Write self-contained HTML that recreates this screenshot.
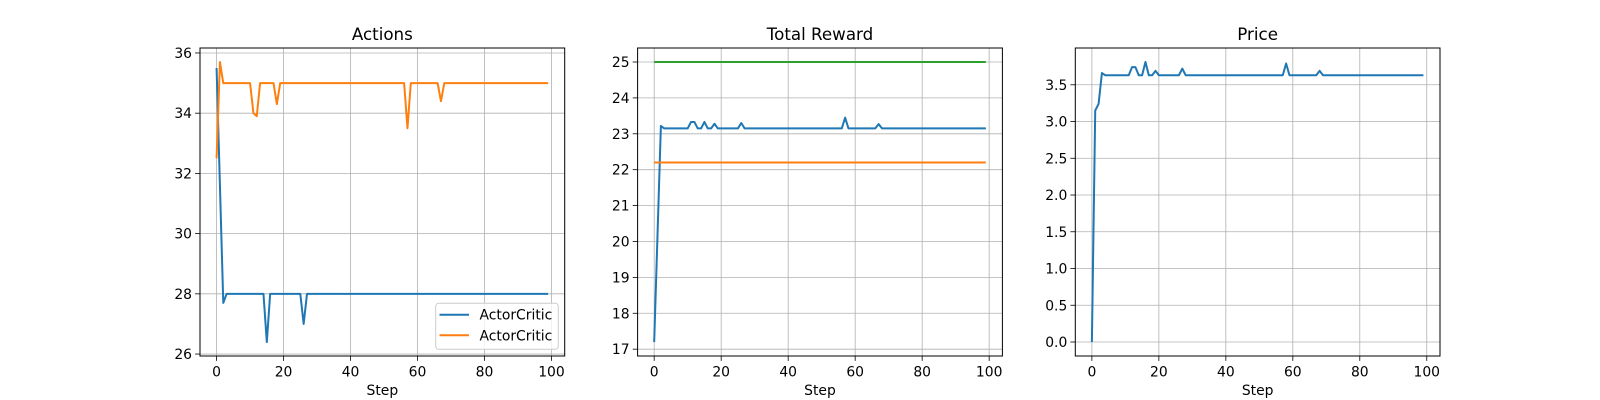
<!DOCTYPE html>
<html><head><meta charset="utf-8"><style>
html,body{margin:0;padding:0;background:#fff;}
svg{display:block;font-family:"DejaVu Sans","Liberation Sans",sans-serif;}
</style></head><body>
<svg id="fig" width="1600" height="400" viewBox="0 0 1600 400"></svg>
<script>
const steps = Array.from({length:100},(_,i)=>i);
// Actions
const actionsBlue = steps.map(i=>28);
actionsBlue[0]=35.5; actionsBlue[1]=31.6; actionsBlue[2]=27.7; actionsBlue[15]=26.4; actionsBlue[26]=27.0;
const actionsOrange = steps.map(i=>35);
actionsOrange[0]=32.5; actionsOrange[1]=35.7; actionsOrange[11]=34.0; actionsOrange[12]=33.9; actionsOrange[18]=34.3; actionsOrange[57]=33.5; actionsOrange[67]=34.4;
// Total reward
const rewardBlue = steps.map(i=>23.15);
rewardBlue[0]=17.2; rewardBlue[1]=20.2; rewardBlue[2]=23.22; rewardBlue[11]=23.33; rewardBlue[12]=23.33; rewardBlue[15]=23.33; rewardBlue[18]=23.28; rewardBlue[26]=23.3; rewardBlue[57]=23.45; rewardBlue[67]=23.27;
const rewardOrange = steps.map(i=>22.2);
const rewardGreen = steps.map(i=>25);
// Price
const priceBlue = steps.map(i=>3.63);
priceBlue[0]=0; priceBlue[1]=3.15; priceBlue[2]=3.24; priceBlue[3]=3.66; priceBlue[12]=3.74; priceBlue[13]=3.74; priceBlue[16]=3.81; priceBlue[19]=3.69; priceBlue[27]=3.72; priceBlue[58]=3.79; priceBlue[68]=3.69;

const xTicks = [0,20,40,60,80,100];
const actionsYTicks = [26,28,30,32,34,36];
const rewardYTicks = [17,18,19,20,21,22,23,24,25];
const priceYTicks = [0,0.5,1,1.5,2,2.5,3,3.5];
const priceYLabels = ["0.0","0.5","1.0","1.5","2.0","2.5","3.0","3.5"];

const NS="http://www.w3.org/2000/svg";
const fig=document.getElementById('fig');
function mk(tag,attrs,parent){const e=document.createElementNS(NS,tag);for(const k in attrs)e.setAttribute(k,attrs[k]);(parent||fig).appendChild(e);return e;}

function panel(left,right,title,seriesList,yTicks,yLabels,name){
  const top=48,bottom=356;
  const g=mk('g',{});
  
  
  let all=[];seriesList.forEach(s=>all=all.concat(s.data));
  const mn=Math.min(...all),mx=Math.max(...all),pad=(mx-mn)*0.05;
  const y0=mn-pad,y1=mx+pad;
  const x0=-4.95,x1=103.95;
  const sx=v=>left+(v-x0)/(x1-x0)*(right-left);
  const sy=v=>bottom-(v-y0)/(y1-y0)*(bottom-top);
  xTicks.forEach(t=>{
    const l=mk('line',{x1:sx(t),x2:sx(t),y1:top,y2:bottom,stroke:'#b0b0b0','stroke-width':0.8},g);
    
    
    mk('line',{x1:sx(t),x2:sx(t),y1:bottom,y2:bottom+4.9,stroke:'#000','stroke-width':0.8},g);
    const tx=mk('text',{x:sx(t),y:bottom+20.5,'font-size':13.9,'text-anchor':'middle',fill:'#000'},g);
    tx.textContent=t;
    
    
  });
  yTicks.forEach((t,i)=>{
    const l=mk('line',{x1:left,x2:right,y1:sy(t),y2:sy(t),stroke:'#b0b0b0','stroke-width':0.8},g);
    
    
    mk('line',{x1:left-4.9,x2:left,y1:sy(t),y2:sy(t),stroke:'#000','stroke-width':0.8},g);
    const tx=mk('text',{x:left-8,y:sy(t)+5,'font-size':13.9,'text-anchor':'end',fill:'#000'},g);
    tx.textContent=yLabels?yLabels[i]:t;
    
    
  });
  seriesList.forEach(s=>{
    const p=mk('polyline',{points:s.data.map((v,i)=>sx(steps[i])+','+sy(v)).join(' '),fill:'none',stroke:s.color,'stroke-width':2,'stroke-linejoin':'round'},g);
    
    
  });
  const r=mk('rect',{x:left,y:top,width:right-left,height:bottom-top,fill:'none',stroke:'#000','stroke-width':1},g);
  
  
  const tt=mk('text',{x:(left+right)/2,y:top-8,'font-size':16.7,'text-anchor':'middle',fill:'#000'},g);
  tt.textContent=title;
  
  
  const xl=mk('text',{x:(left+right)/2,y:395,'font-size':13.9,'text-anchor':'middle',fill:'#000'},g);
  xl.textContent='Step';
  
  
  return g;
}
panel(200,564.7,'Actions',[{data:actionsBlue,color:'#1f77b4',name:'actions-series-blue'},{data:actionsOrange,color:'#ff7f0e',name:'actions-series-orange'}],actionsYTicks,null,'actions');
panel(637.6,1002.4,'Total Reward',[{data:rewardBlue,color:'#1f77b4',name:'reward-series-blue'},{data:rewardOrange,color:'#ff7f0e',name:'reward-series-orange'},{data:rewardGreen,color:'#2ca02c',name:'reward-series-green'}],rewardYTicks,null,'reward');
panel(1075.3,1440,'Price',[{data:priceBlue,color:'#1f77b4',name:'price-series-blue'}],priceYTicks,priceYLabels,'price');

const lg=mk('g',{});


mk('rect',{x:435.7,y:303.3,width:122.6,height:46,rx:3,fill:'#fff','fill-opacity':0.8,stroke:'#cccccc','stroke-width':1},lg);
[['#1f77b4',314.7],['#ff7f0e',335.3]].forEach(([c,y])=>{
  const e=mk('g',{},lg);
  
  
  mk('line',{x1:439.5,x2:469,y1:y,y2:y,stroke:c,'stroke-width':2},e);
  const t=mk('text',{x:479.5,y:y+5,'font-size':13.9,fill:'#000'},e);
  t.textContent='ActorCritic';
});
</script>
</body></html>
